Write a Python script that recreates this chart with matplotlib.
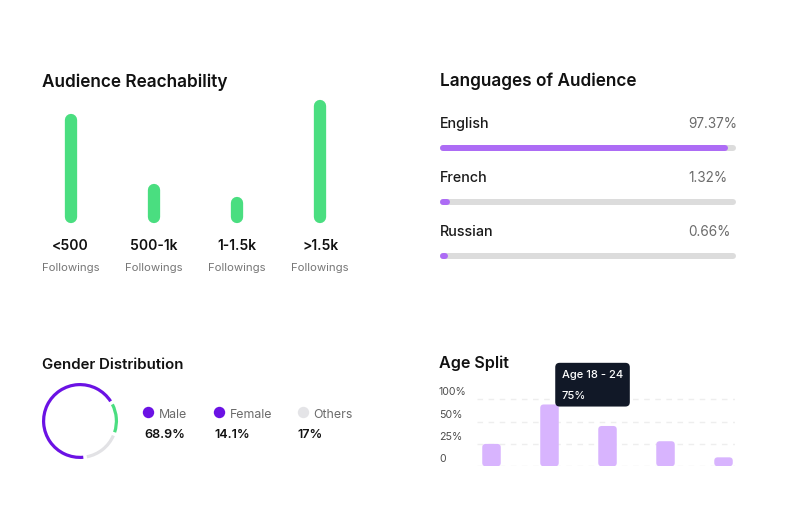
import matplotlib
matplotlib.use("Agg")
import matplotlib.pyplot as plt
from matplotlib.patches import FancyBboxPatch

plt.rcParams['font.family'] = ['Inter', 'DejaVu Sans']

# data
reach_labels = ['<500', '500-1k', '1-1.5k', '>1.5k']
reach_sub = 'Followings'
reach_values = [89, 32, 21, 100]

lang_names = ['English', 'French', 'Russian']
lang_values = [97.37, 1.32, 0.66]

gender_names = ['Male', 'Female', 'Others']
gender_values = [68.9, 14.1, 17]

age_values = [25, 69, 45, 28, 10]
age_ticks = [0, 25, 50, 75]
age_tick_labels = ['0', '25%', '50%', '100%']
tip_label = 'Age 18 - 24'
tip_value = '75%'

GREEN = '#4ade80'
PURPLE = '#ad6cf5'
VIOLET = '#6b12e4'
TRACK = '#dcdcdc'
RING_GRAY = '#e2e2e5'
AGE_BAR = '#d8b4fe'
DARK = '#111111'
GRAY_TXT = '#6b6b6b'

W, H = 789, 506
PT = 0.72  # points per pixel at dpi 100

fig = plt.figure(figsize=(W / 100, H / 100), dpi=100)
fig.patch.set_facecolor('white')


def rect(l, t, r, b):
    return [l / W, 1 - b / H, (r - l) / W, (b - t) / H]


def ftext(x, y, s, **kw):
    fig.text(x / W, 1 - y / H, s, va='baseline', **kw)


# titles
ftext(42, 87, 'Audience Reachability', fontsize=12.4, fontweight='semibold', color=DARK)
ftext(440, 86, 'Languages of Audience', fontsize=12.4, fontweight='semibold', color=DARK)
ftext(42, 369, 'Gender Distribution', fontsize=10.8, fontweight='semibold', color=DARK)
ftext(439, 368, 'Age Split', fontsize=11.6, fontweight='semibold', color=DARK)

# --- audience reachability
ax = fig.add_axes(rect(42, 101, 349, 224))
ax.set_xlim(-0.343, 3.347)
ax.set_ylim(0, 100)
ax.axis('off')
lw_px = 12.3
cap = (lw_px / 2) / (123 / 100)
xs = list(range(len(reach_values)))
ax.vlines(xs, cap, [v - cap for v in reach_values], colors=GREEN,
          linewidth=lw_px * PT, capstyle='round', clip_on=False)
for i, lab in enumerate(reach_labels):
    ax.annotate(lab, xy=(i, 0), xytext=(0, -26 * PT), textcoords='offset points',
                ha='center', va='baseline', fontsize=10, fontweight='semibold', color=DARK)
    ax.annotate(reach_sub, xy=(i, 0), xytext=(0, -47 * PT), textcoords='offset points',
                ha='center', va='baseline', fontsize=8.2, color='#777777')

# --- languages
axl = fig.add_axes(rect(440, 100, 736, 270))
axl.set_xlim(-3 / 2.9, 100 + 3 / 2.9)
axl.set_ylim(2.246, -0.902)
axl.axis('off')
rows = list(range(len(lang_values)))
axl.hlines(rows, 0, 100, colors=TRACK, linewidth=6 * PT, capstyle='round', clip_on=False)
axl.hlines(rows, 0, lang_values, colors=PURPLE, linewidth=6 * PT, capstyle='round', clip_on=False)
for i, (name, v) in enumerate(zip(lang_names, lang_values)):
    axl.annotate(name, xy=(0, i), xycoords=('axes fraction', 'data'),
                 xytext=(0, 20.7 * PT), textcoords='offset points',
                 ha='left', va='baseline', fontsize=10.3, fontweight='medium', color='#1a1a1a')
    axl.annotate(f'{v:.2f}%', xy=((688 - 440) / 296, i), xycoords=('axes fraction', 'data'),
                 xytext=(0, 20.7 * PT), textcoords='offset points',
                 ha='left', va='baseline', fontsize=9.8, color=GRAY_TXT)

# --- gender donut
axd = fig.add_axes(rect(40, 382, 120, 462))
wedges, _ = axd.pie(gender_values, colors=[VIOLET, GREEN, RING_GRAY], startangle=278,
                    counterclock=False, radius=1, wedgeprops=dict(width=3.2 / 38))
gap = 2.8
for w in wedges:
    w.set_theta1(w.theta1 + gap)
    w.set_theta2(w.theta2 - gap)
axd.set_xlim(-40 / 38, 40 / 38)
axd.set_ylim(-40 / 38, 40 / 38)
axd.set_aspect('equal')

# legend
ov = fig.add_axes([0, 0, 1, 1])
ov.set_xlim(0, W)
ov.set_ylim(H, 0)
ov.axis('off')
ov.patch.set_alpha(0)
dot_x = [148.3, 219, 302.7]
name_x = [159.3, 230, 313.3]
val_x = [144.3, 214.3, 297.7]
dot_colors = [VIOLET, VIOLET, '#e4e4e7']
for i, (name, v) in enumerate(zip(gender_names, gender_values)):
    ov.plot(dot_x[i], 413.3, 'o', ms=11.4 * PT, color=dot_colors[i], mec='none')
    ov.text(name_x[i], 417.7, name, fontsize=8.9, color=GRAY_TXT, va='baseline')
    ov.text(val_x[i], 437.7, f'{v:g}%', fontsize=9.1, fontweight='semibold',
            color=DARK, va='baseline')

# --- age split
axa = fig.add_axes(rect(477, 395, 735, 467.3))
axa.set_xlim(-0.25, 4.198)
axa.set_ylim(0, 80.7)
for s in axa.spines.values():
    s.set_visible(False)
axa.set_xticks([])
axa.set_yticks(age_ticks)
axa.tick_params(axis='y', length=0, labelleft=False)
axa.grid(axis='y', color='#eeeeee', linewidth=1, linestyle=(0, (4, 4)))
axa.set_axisbelow(True)
bw = 18.5 / 58
r = 3.5 / 58
aspect = (80.7 / 72.3) / (1 / 58)
for i, v in enumerate(age_values):
    axa.add_patch(FancyBboxPatch((i - bw / 2, 0), bw, v,
                                 boxstyle=f'round,pad=0,rounding_size={r}',
                                 mutation_aspect=aspect, fc=AGE_BAR, ec='none'))
for t, lab in zip(age_ticks, age_tick_labels):
    axa.annotate(lab, xy=(-(477 - 439) / 258, t), xycoords=('axes fraction', 'data'),
                 xytext=(0, 5 * PT), textcoords='offset points', ha='left',
                 va='baseline', fontsize=7.6, color='#4d4d4d', annotation_clip=False)

axa.annotate(f'{tip_label}\n{tip_value}', xy=(1, age_values[1]),
             xytext=(12.4 * PT, 35 * PT), textcoords='offset points',
             ha='left', va='top', fontsize=8, fontweight='medium', color='white',
             linespacing=2.3, annotation_clip=False, zorder=10,
             bbox=dict(boxstyle='round,pad=0.6,rounding_size=0.4', fc='#111827', ec='none'))

fig.savefig('out.png', dpi=100, facecolor='white')
